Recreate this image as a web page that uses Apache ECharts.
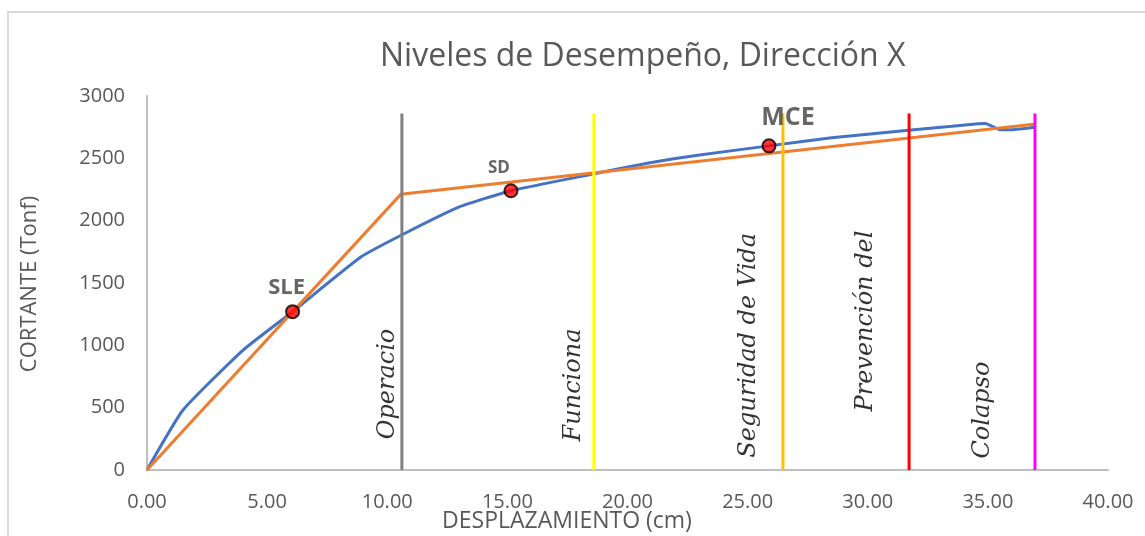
<!DOCTYPE html>
<html>
<head>
<meta charset="utf-8">
<script src="https://cdn.jsdelivr.net/npm/echarts@6/dist/echarts.min.js"></script>
<style>html,body{margin:0;padding:0;background:#fff}#c{width:1145px;height:536px}</style>
</head>
<body>
<div id="c"></div>
<script>
// ---- data ----
const titleText = 'Niveles de Desempeño, Dirección X';
const xAxisName = 'DESPLAZAMIENTO (cm)';
const yAxisName = 'CORTANTE (Tonf)';

const despCurve = [0, 1.5, 4.0, 6.06, 8.9, 10.6, 13.0, 15.15, 18.56, 20.94, 23.0, 25.89, 28.5, 31.7, 33.5, 34.6, 34.9, 35.2, 35.5, 36.0, 37.0];
const cortCurve = [0, 481, 962, 1270, 1708, 1885, 2110, 2240, 2374, 2465, 2527, 2600, 2665, 2725, 2758, 2778, 2780, 2755, 2730, 2730, 2752];

const despBilineal = [0, 10.56, 37.0];
const cortBilineal = [0, 2211, 2775];

const levelNames = ['Operacio', 'Funciona', 'Seguridad de Vida', 'Prevención del', 'Colapso'];
const levelX = [10.61, 18.6, 26.47, 31.72, 36.96];
const levelTop = 2860;
const levelLabelX = [10.02, 17.78, 25.05, 29.9, 34.8];
const levelLabelY = [690, 682, 1000, 1195, 481];

const pointNames = ['SLE', 'SD', 'MCE'];
const pointX = [6.06, 15.15, 25.89];
const pointY = [1270, 2240, 2600];

const xTicks = [0, 5, 10, 15, 20, 25, 30, 35, 40];
const yTicks = [0, 500, 1000, 1500, 2000, 2500, 3000];

// ---- styles ----
const SANS = '"Open Sans", "Noto Sans", sans-serif';
const SERIF = '"DejaVu Serif", "Liberation Serif", serif';
const levelColors = ['#808080', '#ffff00', '#ffc000', '#ff0000', '#ff00ff'];
const pointLabelStyle = [
  {fontSize: 22, offset: [-6, -24]},
  {fontSize: 17, offset: [-12, -23]},
  {fontSize: 25, offset: [19, -28]}
];

const chart = echarts.init(document.getElementById('c'));

const series = [];
series.push({
  type: 'line', name: 'curva', data: despCurve.map((x, i) => [x, cortCurve[i]]),
  showSymbol: false, smooth: 0.15, z: 3,
  lineStyle: {color: '#4472c4', width: 3}
});
series.push({
  type: 'line', name: 'bilineal', data: despBilineal.map((x, i) => [x, cortBilineal[i]]),
  showSymbol: false, z: 3,
  lineStyle: {color: '#ed7d31', width: 3}
});
levelX.forEach((x, i) => {
  series.push({
    type: 'line', data: [[x, 0], [x, levelTop]], showSymbol: false, z: 4,
    lineStyle: {color: levelColors[i], width: 3}
  });
});
series.push({
  type: 'scatter', symbolSize: 0, z: 5,
  data: levelNames.map((n, i) => ({value: [levelLabelX[i], levelLabelY[i]], name: n})),
  label: {
    show: true, position: 'inside', rotate: 90, formatter: p => p.name,
    fontFamily: SERIF, fontStyle: 'italic', fontSize: 24, color: '#000'
  }
});
series.push({
  type: 'scatter', symbol: 'circle', symbolSize: 13, z: 6,
  itemStyle: {color: '#ff0000', borderColor: '#000', borderWidth: 2},
  data: pointNames.map((n, i) => ({
    value: [pointX[i], pointY[i]], name: n,
    label: {show: true, position: 'inside', formatter: n, fontSize: pointLabelStyle[i].fontSize,
      offset: pointLabelStyle[i].offset, fontWeight: 'bold', color: '#404040', fontFamily: SANS}
  }))
});

chart.setOption({
  animation: false,
  backgroundColor: '#fff',
  grid: {left: 147, right: 37, top: 96, bottom: 66},
  xAxis: {
    type: 'value', min: xTicks[0], max: xTicks[xTicks.length - 1], interval: 5,
    axisLine: {lineStyle: {color: '#bfbfbf', width: 2}},
    axisTick: {show: false}, splitLine: {show: false},
    axisLabel: {formatter: v => v.toFixed(2), fontSize: 20, color: '#595959', margin: 22, fontFamily: SANS}
  },
  yAxis: {
    type: 'value', min: yTicks[0], max: yTicks[yTicks.length - 1], interval: 500,
    axisLine: {show: true, lineStyle: {color: '#bfbfbf', width: 2}},
    axisTick: {show: false}, splitLine: {show: false},
    axisLabel: {formatter: v => String(v), fontSize: 20, color: '#595959', margin: 22, fontFamily: SANS}
  },
  graphic: [
    {type: 'rect', shape: {x: 8, y: 12, width: 1400, height: 800}, style: {fill: 'none', stroke: '#d9d9d9', lineWidth: 2}, silent: true},
    {type: 'text', x: 380, y: 57, style: {text: titleText, font: '32px "Open Sans", sans-serif', fill: '#595959', verticalAlign: 'middle'}},
    {type: 'text', x: 567, y: 521, style: {text: xAxisName, font: '23px "Open Sans", sans-serif', fill: '#595959', align: 'center', verticalAlign: 'middle'}},
    {type: 'text', x: 30, y: 284, rotation: Math.PI / 2, style: {text: yAxisName, font: '22px "Open Sans", sans-serif', fill: '#595959', align: 'center', verticalAlign: 'middle'}}
  ],
  series: series
});
</script>
</body>
</html>
